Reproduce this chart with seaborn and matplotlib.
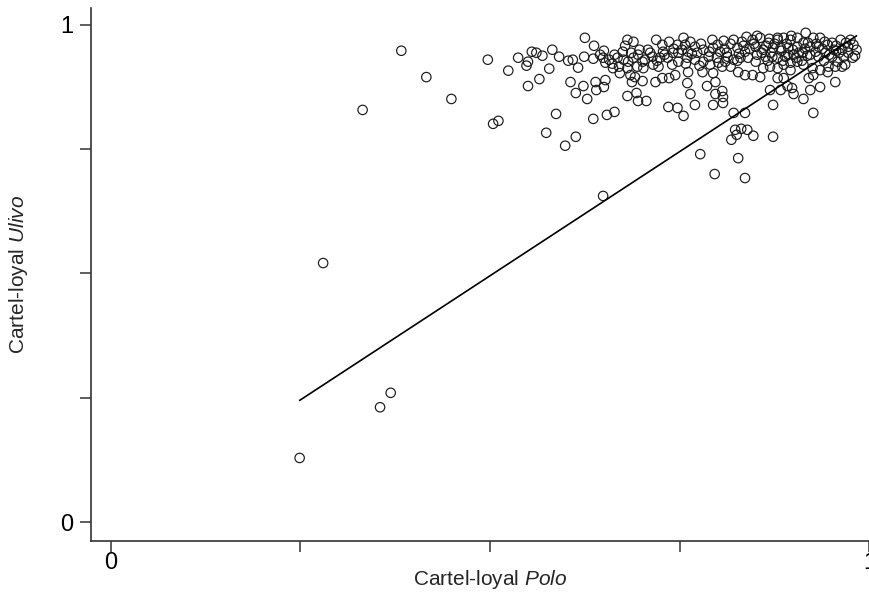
import numpy as np
import pandas as pd
import matplotlib
matplotlib.use("Agg")
import matplotlib.pyplot as plt
import seaborn as sns

# sparse points: lower-left outliers and the left side of the band
polo_sparse = [0.249, 0.355, 0.369, 0.280, 0.332, 0.383, 0.416, 0.449,
               0.497, 0.524, 0.537, 0.548, 0.550, 0.555, 0.561, 0.569,
               0.582, 0.591, 0.603, 0.609, 0.616, 0.578, 0.565, 0.550,
               0.606, 0.613, 0.587, 0.504, 0.511, 0.574, 0.599, 0.613]
ulivo_sparse = [0.129, 0.231, 0.260, 0.521, 0.829, 0.948, 0.895, 0.851,
                0.930, 0.908, 0.934, 0.918, 0.926, 0.946, 0.944, 0.938,
                0.950, 0.936, 0.928, 0.930, 0.914, 0.912, 0.891, 0.877,
                0.885, 0.863, 0.821, 0.801, 0.807, 0.783, 0.757, 0.775]

# band, middle part
polo_mid = [0.625, 0.637, 0.624, 0.636, 0.645, 0.650, 0.649, 0.652,
            0.661, 0.662, 0.668, 0.670, 0.675, 0.681, 0.689, 0.682,
            0.681, 0.689, 0.695, 0.701, 0.694, 0.702, 0.708, 0.714,
            0.715, 0.722, 0.719, 0.727, 0.728, 0.724, 0.736, 0.734,
            0.740, 0.741, 0.747, 0.748, 0.671, 0.685, 0.691, 0.701,
            0.687, 0.718, 0.727, 0.736, 0.744, 0.623, 0.628, 0.639,
            0.640, 0.652, 0.650, 0.681, 0.693, 0.695, 0.706, 0.636,
            0.654, 0.664, 0.735, 0.747, 0.649]
ulivo_mid = [0.974, 0.958, 0.936, 0.932, 0.940, 0.948, 0.934, 0.924,
             0.922, 0.913, 0.934, 0.916, 0.946, 0.970, 0.966, 0.926,
             0.913, 0.934, 0.940, 0.926, 0.916, 0.913, 0.950, 0.936,
             0.920, 0.916, 0.970, 0.960, 0.946, 0.934, 0.966, 0.934,
             0.920, 0.944, 0.960, 0.926, 0.903, 0.899, 0.895, 0.887,
             0.885, 0.885, 0.893, 0.893, 0.899, 0.877, 0.851, 0.885,
             0.869, 0.889, 0.875, 0.857, 0.863, 0.847, 0.847, 0.811,
             0.819, 0.825, 0.835, 0.833, 0.656]

# band, right-middle part
polo_right = [0.755, 0.764, 0.757, 0.770, 0.753, 0.761, 0.773, 0.781,
              0.793, 0.794, 0.803, 0.788, 0.799, 0.813, 0.821, 0.826,
              0.832, 0.836, 0.846, 0.850, 0.856, 0.860, 0.867, 0.873,
              0.879, 0.872, 0.863, 0.852, 0.840, 0.830, 0.821, 0.810,
              0.801, 0.790, 0.781, 0.770, 0.760, 0.761, 0.780, 0.794,
              0.806, 0.817, 0.827, 0.836, 0.846, 0.856, 0.860, 0.869,
              0.879, 0.797, 0.760, 0.786, 0.797, 0.806, 0.764, 0.770,
              0.794, 0.807, 0.807, 0.821, 0.836, 0.869, 0.873]
ulivo_right = [0.974, 0.966, 0.960, 0.956, 0.950, 0.946, 0.944, 0.950,
               0.970, 0.954, 0.946, 0.936, 0.934, 0.936, 0.970, 0.954,
               0.966, 0.946, 0.970, 0.956, 0.974, 0.950, 0.964, 0.954,
               0.974, 0.936, 0.936, 0.940, 0.934, 0.934, 0.930, 0.926,
               0.924, 0.920, 0.926, 0.930, 0.934, 0.905, 0.905, 0.903,
               0.916, 0.916, 0.905, 0.899, 0.899, 0.895, 0.913, 0.916,
               0.893, 0.885, 0.883, 0.877, 0.861, 0.867, 0.861, 0.839,
               0.839, 0.843, 0.855, 0.823, 0.823, 0.869, 0.839]

# band, far right
polo_far = [0.879, 0.887, 0.896, 0.905, 0.916, 0.926, 0.935, 0.951,
            0.962, 0.975, 0.972, 0.979, 0.964, 0.953, 0.945, 0.933,
            0.922, 0.913, 0.905, 0.893, 0.883, 0.879, 0.889, 0.900,
            0.912, 0.922, 0.933, 0.942, 0.951, 0.958, 0.966, 0.978,
            0.964, 0.955, 0.946, 0.945, 0.935, 0.926, 0.920, 0.925,
            0.913, 0.905, 0.896, 0.887, 0.879, 0.896, 0.887, 0.892,
            0.883, 0.898, 0.900, 0.913, 0.922, 0.935, 0.955, 0.926,
            0.968, 0.852]
ulivo_far = [0.970, 0.974, 0.970, 0.974, 0.984, 0.974, 0.974, 0.964,
             0.970, 0.970, 0.956, 0.960, 0.950, 0.950, 0.960, 0.956,
             0.956, 0.964, 0.956, 0.954, 0.954, 0.934, 0.936, 0.940,
             0.944, 0.940, 0.936, 0.944, 0.936, 0.926, 0.936, 0.934,
             0.916, 0.916, 0.916, 0.905, 0.909, 0.899, 0.893, 0.913,
             0.920, 0.926, 0.924, 0.920, 0.913, 0.909, 0.893, 0.877,
             0.869, 0.873, 0.861, 0.851, 0.869, 0.875, 0.885, 0.823,
             0.920, 0.978]

# points below the band, right of centre
polo_low = [0.755, 0.823, 0.831, 0.839, 0.825, 0.847, 0.818, 0.873,
            0.777, 0.827, 0.796, 0.836]
ulivo_low = [0.817, 0.789, 0.791, 0.789, 0.779, 0.777, 0.769, 0.775,
             0.740, 0.732, 0.700, 0.692]

# overlapping circles inside the densest part of the band
polo_dense = [0.875, 0.884, 0.891, 0.899, 0.907, 0.915, 0.919, 0.929,
              0.938, 0.941, 0.947, 0.956, 0.960, 0.969, 0.903, 0.911,
              0.918, 0.893, 0.886, 0.870, 0.864, 0.858, 0.848, 0.842,
              0.834, 0.828, 0.817, 0.809, 0.800, 0.789, 0.778, 0.766,
              0.748, 0.742, 0.730, 0.711, 0.704, 0.697, 0.686, 0.676,
              0.664, 0.657, 0.678, 0.720, 0.758, 0.776, 0.812, 0.826,
              0.850, 0.866, 0.940, 0.956, 0.972, 0.983, 0.981, 0.930,
              0.897, 0.868, 0.838, 0.808]
ulivo_dense = [0.962, 0.948, 0.962, 0.950, 0.944, 0.952, 0.964, 0.946,
               0.952, 0.966, 0.940, 0.958, 0.944, 0.964, 0.934, 0.928,
               0.938, 0.940, 0.928, 0.944, 0.958, 0.944, 0.962, 0.952,
               0.958, 0.942, 0.962, 0.952, 0.960, 0.946, 0.962, 0.942,
               0.944, 0.952, 0.940, 0.944, 0.930, 0.950, 0.944, 0.930,
               0.940, 0.930, 0.958, 0.928, 0.922, 0.918, 0.944, 0.928,
               0.926, 0.928, 0.928, 0.948, 0.944, 0.950, 0.938, 0.962,
               0.978, 0.972, 0.976, 0.968]

# fitted line
fit_slope = 0.999
fit_intercept = -0.004

tick_values = [0, 0.25, 0.5, 0.75, 1]
tick_labels = ["0", "", "", "", "1"]

df = pd.DataFrame({
    "polo": polo_sparse + polo_mid + polo_right + polo_far + polo_low + polo_dense,
    "ulivo": ulivo_sparse + ulivo_mid + ulivo_right + ulivo_far + ulivo_low + ulivo_dense,
})

sns.set_style("ticks")
plt.rcParams["font.family"] = ["Liberation Sans", "DejaVu Sans"]
plt.rcParams["mathtext.fontset"] = "custom"
plt.rcParams["mathtext.rm"] = "Liberation Sans"
plt.rcParams["mathtext.it"] = "Liberation Sans:italic"

fig = plt.figure(figsize=(8.69, 5.96), dpi=100)
ax = fig.add_axes([0.1047, 0.0923, 0.9185, 0.8943])

sns.scatterplot(data=df, x="polo", y="ulivo", ax=ax, marker="o", s=46,
                facecolors="none", edgecolor="#1a1a1a", linewidth=0.85)

line_x = np.array([df["polo"].min(), df["polo"].max()])
sns.lineplot(x=line_x, y=fit_intercept + fit_slope * line_x, ax=ax,
             color="black", linewidth=1.2)

ax.set_xlim(-0.026, 1.026)
ax.set_ylim(-0.038, 1.034)
ax.set_xticks(tick_values)
ax.set_xticklabels(tick_labels)
ax.set_yticks(tick_values)
ax.set_yticklabels(tick_labels)
ax.tick_params(axis="both", length=8, width=1.1, color="#333333",
               labelsize=17, labelcolor="black")
ax.tick_params(axis="x", pad=0)
ax.tick_params(axis="y", pad=5)

sns.despine(ax=ax)
for side in ["left", "bottom"]:
    ax.spines[side].set_linewidth(1.2)
    ax.spines[side].set_color("#333333")

ax.set_xlabel("Cartel-loyal $\\mathit{Polo}$", fontsize=15)
ax.set_ylabel("Cartel-loyal $\\mathit{Ulivo}$", fontsize=15)
ax.xaxis.set_label_coords(0.5, -0.05)
ax.yaxis.set_label_coords(-0.076, 0.5)

fig.savefig("out.png", dpi=100)
